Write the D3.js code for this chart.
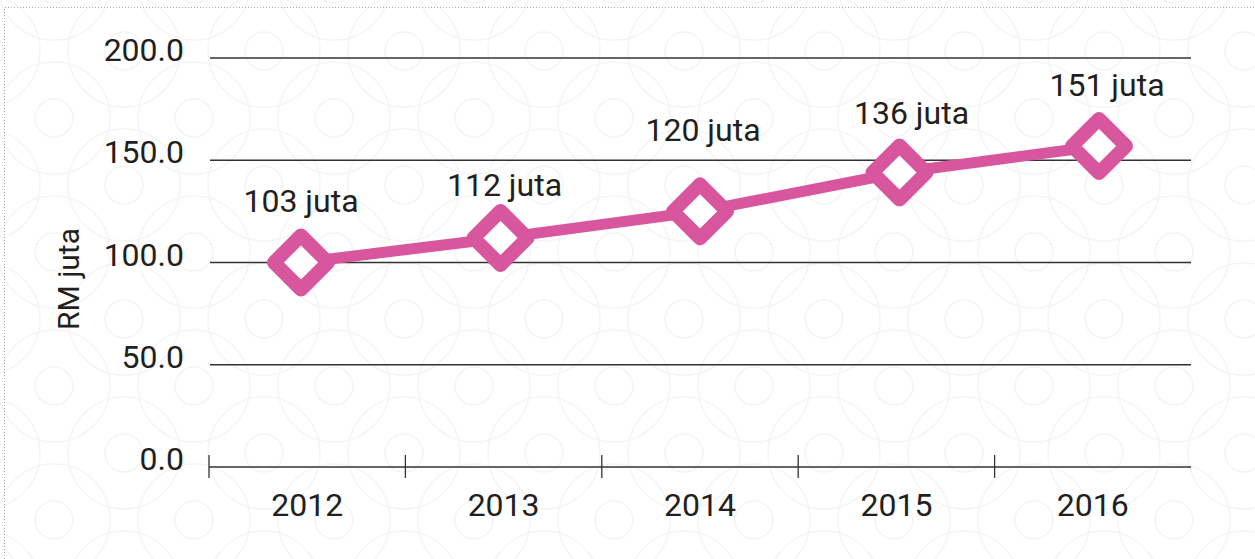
<!DOCTYPE html>
<html lang="ms">
<head>
<meta charset="utf-8">
<script src="https://cdn.jsdelivr.net/npm/d3@7/dist/d3.min.js"></script>
<style>
  body { margin: 0; background: #fff; }
  text { font-family: Roboto, "Open Sans", sans-serif; fill: #231f20; }
</style>
</head>
<body>
<div id="chart"></div>
<script>
// data
var years = ["2012", "2013", "2014", "2015", "2016"];
var values = [100, 112, 125, 144, 157];       // where the markers sit
var labels = ["103 juta", "112 juta", "120 juta", "136 juta", "151 juta"];
var yTicks = [0, 50, 100, 150, 200];
var yTitle = "RM juta";

// hand placed label nudges (px), as in the original
var labelDx = [0, 4, 3, 12, 8];
var labelDy = [-51, -42, -70, -49, -50];

var W = 1255, H = 559;
var pink = "#d8569e", ink = "#333";

var svg = d3.select("#chart").append("svg")
    .attr("width", W)
    .attr("height", H);

// faint circle pattern in the background
var defs = svg.append("defs");
var pat = defs.append("pattern")
    .attr("id", "bg")
    .attr("patternUnits", "userSpaceOnUse")
    .attr("width", 140)
    .attr("height", 134)
    .attr("patternTransform", "translate(54,118)");
[[0, 0], [140, 0], [0, 134], [140, 134], [70, 67]].forEach(function(c) {
  pat.append("circle").attr("cx", c[0]).attr("cy", c[1]).attr("r", 19)
     .attr("fill", "none").attr("stroke", "#f4f4f4").attr("stroke-width", 1.6);
  pat.append("circle").attr("cx", c[0]).attr("cy", c[1]).attr("r", 56)
     .attr("fill", "none").attr("stroke", "#f5f5f5").attr("stroke-width", 1.6);
});
svg.append("rect").attr("width", W).attr("height", H).attr("fill", "url(#bg)");

// dotted frame (top and left visible)
svg.append("path")
    .attr("d", "M4.5," + H + "V7.5H" + W)
    .attr("fill", "none")
    .attr("stroke", "#aaa")
    .attr("stroke-dasharray", "1,2");

var x = d3.scaleBand().domain(years).range([209, 1191]);
var xp = d3.scalePoint().domain(years).range([301, 1099]);
var y = d3.scaleLinear().domain([0, 200]).range([467, 58]);

// gridlines
svg.append("g").selectAll("line")
  .data(yTicks.filter(function(d) { return d > 0; }))
  .enter().append("line")
    .attr("x1", 210).attr("x2", 1191)
    .attr("y1", function(d) { return y(d); })
    .attr("y2", function(d) { return y(d); })
    .attr("stroke", ink).attr("stroke-width", 1.3);

// y tick labels
svg.append("g").selectAll("text")
  .data(yTicks)
  .enter().append("text")
    .attr("x", 184)
    .attr("y", function(d) { return y(d) + 3; })
    .attr("text-anchor", "end")
    .attr("font-size", "32px")
    .text(function(d) { return d3.format(".1f")(d); });

// y title
svg.append("text")
    .attr("transform", "translate(79,279) rotate(-90)")
    .attr("text-anchor", "middle")
    .attr("font-size", "30px")
    .text(yTitle);

// x axis line + boundary ticks
svg.append("line")
    .attr("x1", x.range()[0]).attr("x2", x.range()[1])
    .attr("y1", y(0)).attr("y2", y(0))
    .attr("stroke", ink).attr("stroke-width", 1.5);
svg.append("g").selectAll("line")
  .data(years)
  .enter().append("line")
    .attr("x1", function(d) { return x(d); })
    .attr("x2", function(d) { return x(d); })
    .attr("y1", y(0) - 12).attr("y2", y(0) + 11)
    .attr("stroke", ink).attr("stroke-width", 1.3);

// year labels
svg.append("g").selectAll("text")
  .data(years)
  .enter().append("text")
    .attr("x", function(d) { return x(d) + x.bandwidth() / 2; })
    .attr("y", 516)
    .attr("text-anchor", "middle")
    .attr("font-size", "32px")
    .text(function(d) { return d; });

var cx = function(d, i) { return xp(years[i]); };

// line
var line = d3.line()
    .x(function(d, i) { return cx(d, i); })
    .y(function(d) { return y(d); });
svg.append("path")
    .datum(values)
    .attr("d", line)
    .attr("fill", "none")
    .attr("stroke", pink)
    .attr("stroke-width", 11);

// diamond markers
var r = 27;
svg.append("g").selectAll("path")
  .data(values)
  .enter().append("path")
    .attr("d", function(d, i) {
      var px = cx(d, i), py = y(d);
      return "M" + px + "," + (py - r) + "L" + (px + r) + "," + py +
             "L" + px + "," + (py + r) + "L" + (px - r) + "," + py + "Z";
    })
    .attr("fill", "#fff")
    .attr("stroke", pink)
    .attr("stroke-width", 14)
    .attr("stroke-linejoin", "round");

// value labels
svg.append("g").selectAll("text")
  .data(values)
  .enter().append("text")
    .attr("x", function(d, i) { return cx(d, i) + labelDx[i]; })
    .attr("y", function(d, i) { return y(d) + labelDy[i]; })
    .attr("text-anchor", "middle")
    .attr("font-size", "32px")
    .text(function(d, i) { return labels[i]; });
</script>
</body>
</html>
